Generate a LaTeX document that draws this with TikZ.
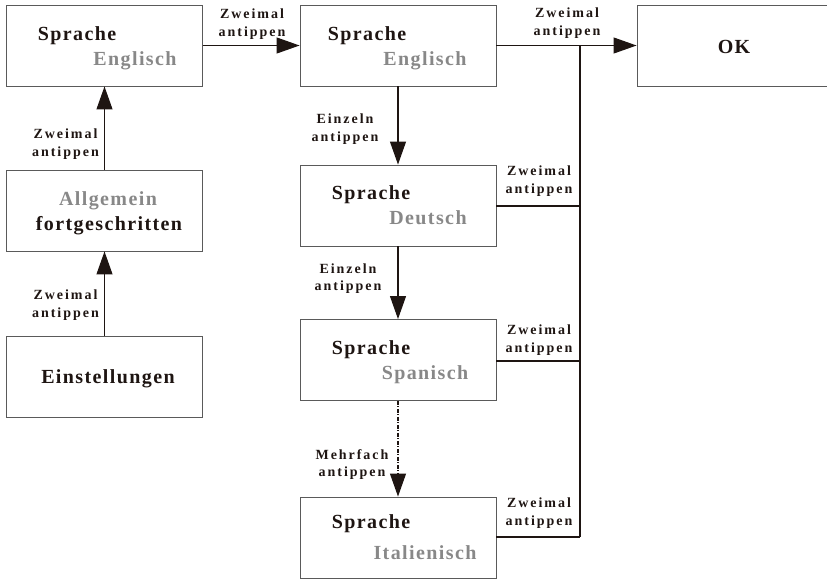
\documentclass[tikz,border=0pt]{standalone}
\usepackage{fontspec}
\setmainfont{Liberation Serif}
\newfontfamily\trackf[LetterSpace=7]{Liberation Serif}
\newfontfamily\labf[LetterSpace=14]{Liberation Serif}
\usetikzlibrary{arrows.meta}
\definecolor{ink}{HTML}{1E1512}
\definecolor{greytxt}{HTML}{888888}
\definecolor{boxc}{HTML}{5A5A5A}
\tikzset{
  box/.style={draw=boxc, line width=0.9pt, inner sep=0pt, minimum width=196pt, minimum height=81pt},
  bigtxt/.style={anchor=base, inner sep=0pt, text=ink, font=\trackf\bfseries\fontsize{20}{22}\selectfont},
  greyt/.style={bigtxt, text=greytxt},
  lab/.style={align=center, inner sep=0pt, text=ink, font=\labf\bfseries\fontsize{14}{17.5}\selectfont},
  conn/.style={draw=ink, line width=1.1pt},
  arr/.style={conn, -{Triangle[length=23pt, width=16pt]}},
  darr/.style={arr, dash pattern=on 4pt off 1.5pt on 1pt off 1.5pt}
}
\begin{document}
\begin{tikzpicture}[x=1pt,y=-1pt]
\useasboundingbox (0,0) rectangle (827,579);
% boxes
\node[box] (b1) at (104.5,45.5) {};
\node[box] (b2) at (398,45.5) {};
\node[box, minimum width=192pt] (ok) at (733,45.5) {};
\node[box] (al) at (104.5,210.5) {};
\node[box] (ei) at (104.5,376.5) {};
\node[box] (de) at (398,205.5) {};
\node[box] (sp) at (398,360) {};
\node[box] (it) at (398,537.5) {};
% texts
\node[bigtxt] (b1a) at (77,40) {Sprache};
\node[greyt] (b1b) at (135,65) {Englisch};
\node[bigtxt] (b2a) at (367,40) {Sprache};
\node[greyt] (b2b) at (425,65) {Englisch};
\node[bigtxt] (okt) at (734,53) {OK};
\node[greyt] (ala) at (108,205) {Allgemein};
\node[bigtxt] (alb) at (109,230) {fortgeschritten};
\node[bigtxt] (eit) at (108,383) {Einstellungen};
\node[bigtxt] (dea) at (371,199) {Sprache};
\node[greyt] (deb) at (428,224) {Deutsch};
\node[bigtxt] (spa) at (371,354) {Sprache};
\node[greyt] (spb) at (425,379) {Spanisch};
\node[bigtxt] (ita) at (371,528) {Sprache};
\node[greyt] (itb) at (425,559) {Italienisch};
% junction line
\coordinate (jt) at (580,45.5);
\coordinate (jd) at (580,206);
\coordinate (js) at (580,361);
\coordinate (ji) at (580,537);
% connectors
\draw[arr] (ei.north) -- (al.south);
\draw[arr] (al.north) -- (b1.south);
\draw[arr] (b1.east) -- (b2.west);
\draw[arr] (b2.east) -- (ok.west);
\draw[arr] (b2.south) -- (de.north);
\draw[arr] (de.south) -- (sp.north);
\draw[darr] (sp.south) -- (it.north);
\draw[conn] (jt) -- (ji);
\draw[conn] (de.east |- jd) -- (jd);
\draw[conn] (sp.east |- js) -- (js);
\draw[conn] (it.east |- ji) -- (ji);
% labels
\node[lab] (l1) at (252,24) {Zweimal\\antippen};
\node[lab] (l2) at (567,23) {Zweimal\\antippen};
\node[lab] (l3) at (65.5,144) {Zweimal\\antippen};
\node[lab] (l4) at (65.5,305) {Zweimal\\antippen};
\node[lab] (l5) at (345,129) {Einzeln\\antippen};
\node[lab] (l6) at (539,181) {Zweimal\\antippen};
\node[lab] (l7) at (348,278.5) {Einzeln\\antippen};
\node[lab] (l8) at (539,340) {Zweimal\\antippen};
\node[lab] (l9) at (352,464.5) {Mehrfach\\antippen};
\node[lab] (l10) at (539,513) {Zweimal\\antippen};
\end{tikzpicture}
\end{document}
